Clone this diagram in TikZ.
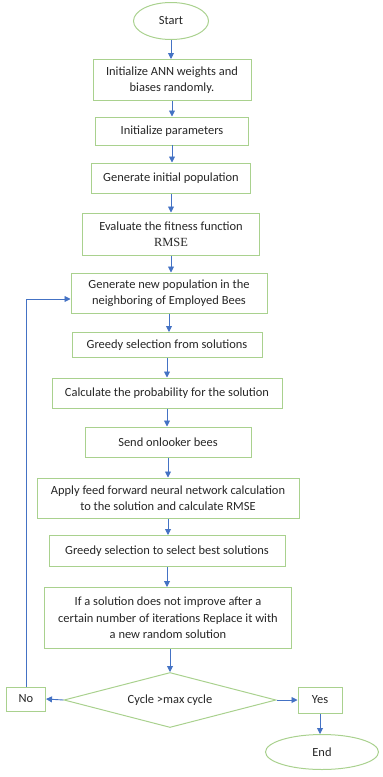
\documentclass[tikz,border=0pt]{standalone}
\usepackage{fontspec}
\setmainfont{Carlito}
\newfontfamily\rmsefont{Liberation Serif}
\usepackage{tikz}
\usetikzlibrary{arrows.meta,shapes.geometric}
\definecolor{FlowGreen}{HTML}{A9D18E}
\definecolor{FlowBlue}{HTML}{4472C4}
\definecolor{FlowText}{HTML}{262626}

\begin{document}
\begin{tikzpicture}[x=1bp,y=-1bp,font=\fontsize{12.5}{16.5}\selectfont,
    procbox/.style={draw=FlowGreen,line width=1pt,align=center,text=FlowText,inner sep=0pt},
    termnode/.style={ellipse,draw=FlowGreen,line width=1pt,text=FlowText,inner sep=0pt},
    flow/.style={-{Triangle[length=6pt,width=6pt]},FlowBlue,line width=0.9pt}]
  \useasboundingbox (0,0) rectangle (382,777);
  \node[termnode,minimum width=75bp,minimum height=37bp] (start) at (171,21) {Start};
  \node[procbox,minimum width=158bp,minimum height=41bp] (initann) at (172,80)
    {Initialize ANN weights and\\biases randomly.};
  \node[procbox,minimum width=153bp,minimum height=28bp] (initpar) at (172,131)
    {Initialize parameters};
  \node[procbox,minimum width=159bp,minimum height=30bp] (genpop) at (171,178)
    {Generate initial population};
  \node[procbox,minimum width=177bp,minimum height=42bp] (evalfit) at (171,234)
    {Evaluate the fitness function\\{\rmsefont RMSE}};
  \node[procbox,minimum width=196bp,minimum height=40bp] (newpop) at (169,293)
    {Generate new population in the\\neighboring of Employed Bees};
  \node[procbox,minimum width=190bp,minimum height=25bp] (greedy) at (167,345)
    {Greedy selection from solutions};
  \node[procbox,minimum width=230bp,minimum height=30bp] (prob) at (167,393)
    {Calculate the probability for the solution};
  \node[procbox,minimum width=166bp,minimum height=30bp] (onlook) at (168,442)
    {Send onlooker bees};
  \node[procbox,minimum width=262bp,minimum height=40bp] (feedfwd) at (168,498)
    {Apply feed forward neural network calculation\\to the solution and calculate RMSE};
  \node[procbox,minimum width=236bp,minimum height=31bp] (greedybest) at (167,551)
    {Greedy selection to select best solutions};
  \node[procbox,minimum width=247bp,minimum height=61bp] (replace) at (168,618)
    {If a solution does not improve after a\\certain number of iterations Replace it with\\a new random solution};
  \node[diamond,draw=FlowGreen,line width=1pt,aspect=3.85,minimum width=212bp,
    minimum height=55bp,inner sep=0pt,text=FlowText] (cycle) at (170,700) {Cycle >max cycle};
  \node[procbox,minimum width=39bp,minimum height=24bp] (no) at (26,699) {No};
  \node[procbox,minimum width=44bp,minimum height=26bp] (yes) at (320,700) {Yes};
  \node[termnode,minimum width=113bp,minimum height=35bp] (end) at (322,752) {End};
  % main chain
  \draw[flow] (start) -- (start |- initann.north);
  \draw[flow] (initann) -- (initann |- initpar.north);
  \draw[flow] (initpar) -- (initpar |- genpop.north);
  \draw[flow] (genpop) -- (genpop |- evalfit.north);
  \draw[flow] (evalfit) -- (evalfit |- newpop.north);
  \draw[flow] (newpop) -- (newpop |- greedy.north);
  \draw[flow] (greedy) -- (greedy |- prob.north);
  \draw[flow] (prob) -- (prob |- onlook.north);
  \draw[flow] (onlook) -- (onlook |- feedfwd.north);
  \draw[flow] (feedfwd) -- (feedfwd |- greedybest.north);
  \draw[flow] (greedybest) -- (greedybest |- replace.north);
  \draw[flow] (replace.south -| cycle.north) -- (cycle.north);
  % decision
  \draw[flow] (cycle.west) -- (no.east);
  \draw[flow] (cycle.east) -- (yes.west);
  \draw[flow] (yes) -- (yes |- end.north);
  \coordinate (loopup) at (no.north |- 0,299);
  \draw[flow] (no.north) -- (loopup) -- (newpop.west |- loopup);
\end{tikzpicture}
\end{document}
